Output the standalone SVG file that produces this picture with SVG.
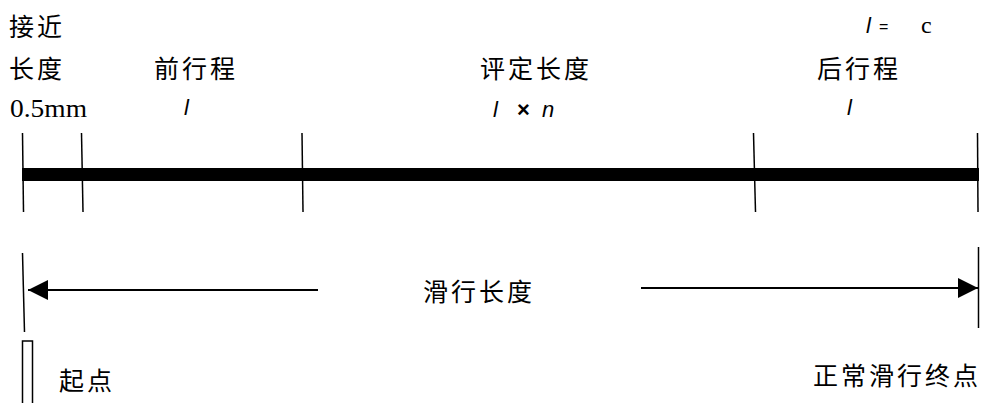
<svg xmlns="http://www.w3.org/2000/svg" width="981" height="403" viewBox="0 0 981 403">
<style>
.cjk{font-family:"Noto Sans CJK SC","Noto Sans CJK JP",sans-serif;font-size:25px;letter-spacing:3px;fill:#000}
.it{font-family:"Liberation Sans",Arial,sans-serif;font-style:italic;font-size:22px;fill:#000}
.sans{font-family:"Liberation Sans",Arial,sans-serif;fill:#000}
.serif{font-family:"Liberation Serif","Times New Roman",serif;fill:#000}
.tick{stroke:#000;stroke-width:1.5;fill:none}
.ln{stroke:#000;stroke-width:2;fill:none}
</style>
<defs>
<marker id="ah" viewBox="0 0 20 20" refX="20" refY="10" markerWidth="20" markerHeight="20" markerUnits="userSpaceOnUse" orient="auto">
<path d="M0,0 L20,10 L0,20 Z" fill="#000"/>
</marker>
</defs>
<g id="labels-top">
<text class="cjk" x="9" y="36">接近</text>
<text class="cjk" x="9" y="78">长度</text>
<text class="serif" x="10" y="117" font-size="25" textLength="77" lengthAdjust="spacingAndGlyphs">0.5mm</text>
<text class="cjk" x="154" y="78">前行程</text>
<text class="it" x="184" y="115">l</text>
<text class="cjk" x="480" y="78">评定长度</text>
<text class="it" x="493" y="117">l</text>
<text class="sans" x="517" y="117" font-size="22" font-weight="bold">×</text>
<text class="it" x="542" y="117">n</text>
<text class="cjk" x="817" y="78">后行程</text>
<text class="it" x="847" y="115">l</text>
<text class="it" x="866" y="33" font-size="26">l</text>
<text class="sans" x="879" y="32" font-size="16">=</text>
<text class="serif" x="921" y="33" font-size="24">c</text>
</g>
<g id="bar">
<rect x="22" y="168" width="957" height="13" fill="#000"/>
<line class="tick" x1="22.5" y1="133" x2="23.5" y2="212"/>
<line class="tick" x1="81.5" y1="133" x2="83" y2="212"/>
<line class="tick" x1="302" y1="133" x2="303" y2="212"/>
<line class="tick" x1="753.5" y1="133" x2="755.5" y2="212"/>
<line class="tick" x1="977.5" y1="133" x2="978" y2="212"/>
</g>
<g id="connectors">
<line class="tick" x1="22.5" y1="253" x2="24.5" y2="332"/>
<line class="tick" x1="978.5" y1="247" x2="978.5" y2="328"/>
<line class="ln" x1="318" y1="290" x2="28" y2="290" marker-end="url(#ah)"/>
<line class="ln" x1="641" y1="288" x2="978" y2="288" marker-end="url(#ah)"/>
</g>
<g id="sliding-label">
<text class="cjk" x="423" y="301">滑行长度</text>
</g>
<g id="start">
<rect x="22.5" y="341" width="10" height="70" fill="#fff" stroke="#000" stroke-width="1.5"/>
<text class="cjk" x="59" y="390">起点</text>
</g>
<g id="end">
<text class="cjk" x="813" y="385">正常滑行终点</text>
</g>
</svg>
